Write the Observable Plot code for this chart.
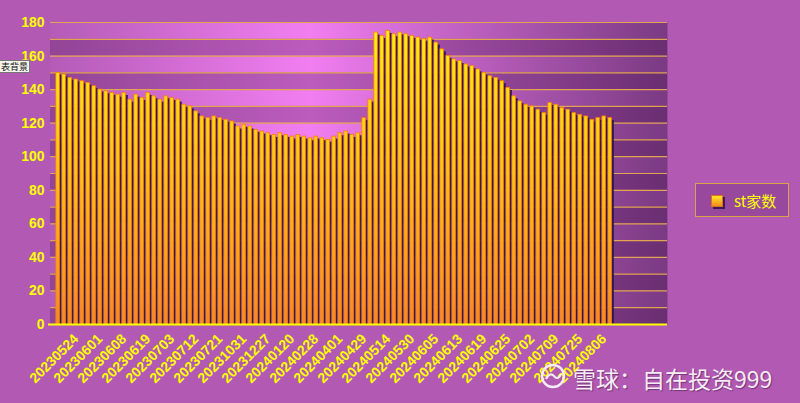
<!DOCTYPE html>
<html><head><meta charset="utf-8">
<script src="https://cdn.jsdelivr.net/npm/d3@7"></script>
<script src="https://cdn.jsdelivr.net/npm/@observablehq/plot@0.6"></script>
<style>
html,body{margin:0;padding:0;background:#b159b3;width:800px;height:403px;overflow:hidden;}
#wrap{position:relative;width:800px;height:403px;}
#wrap svg.chart{position:absolute;left:0;top:0;}
.legend{position:absolute;left:695px;top:183px;width:94px;height:34px;border:1.5px solid #d8a448;background:rgba(90,30,100,0.28);box-sizing:border-box;}
.legend .icon{position:absolute;left:15px;top:11px;width:10px;height:10px;background:linear-gradient(#ffe628,#f08a20);border:1px solid #e07010;box-shadow:2px 2px 0 #3a1a5e;}
.legend .txt{position:absolute;left:38px;top:6px;font:15px "Noto Sans CJK SC","DejaVu Sans",sans-serif;color:#ffff00;}
.tip{position:absolute;left:0;top:60px;height:11px;padding:0 1px;background:#f4f4ec;border:1px solid #777;border-left:none;font:9px "Noto Sans CJK SC",sans-serif;line-height:11px;color:#111;}
.wm{position:absolute;left:573px;top:361px;font:23px "Noto Sans CJK SC",sans-serif;color:#f6ecf6;text-shadow:1px 1px 1px rgba(70,20,70,0.55);white-space:nowrap;}
#wrap svg.logo{position:absolute;left:540px;top:363px;}
</style></head><body><div id="wrap"></div>
<script>
const tickLabels = ["20230524","20230601","20230608","20230619","20230703","20230712","20230721","20231031","20231227","20240120","20240228","20240401","20240429","20240514","20240530","20240605","20240613","20240619","20240625","20240702","20240709","20240725","20240806"];
const stCount = [150,149,147,146,145,144,142,140,139,138,137,138,134,137,135,138,136,134,136,135,134,131,130,127,124,123,124,123,122,121,
118,119,118,116,115,114,113,114,113,112,113,112,111,112,111,110,112,114,115,113,114,123,134,174,172,175,173,174,173,172,171,170,
171,168,164,160,158,157,155,154,152,150,148,147,145,141,136,133,131,130,128,126,132,131,129,128,126,125,124,122,123,124,123];
const seriesName = "st家数";
const labelEvery = 4;
const yTicks = d3.range(0, 181, 20);
const gridValues = d3.range(10, 181, 10);
const bandStarts = d3.range(0, 180, 20);

const bars = stCount.map((v, i) => ({i, v}));
const tickPos = tickLabels.map((t, k) => labelEvery * k + 0.5);

const chart = Plot.plot({
  width: 800, height: 403,
  marginLeft: 50, marginRight: 133, marginTop: 22, marginBottom: 79,
  className: "chart",
  style: {background: "transparent", color: "#ffff00", fontFamily: "'Liberation Sans', Arial, sans-serif", fontSize: "14px", fontWeight: "bold", overflow: "visible"},
  x: {domain: [-0.78, 102.05]},
  y: {domain: [0, 180]},
  marks: [
    Plot.frame({fill: "url(#plotBg)", stroke: "none"}),
    Plot.rect(bandStarts, {y1: d => d, y2: d => d + 10, fill: "#4a1650", fillOpacity: 0.32}),
    Plot.ruleY(gridValues, {stroke: "#e2a452", strokeWidth: 1.2}),
    Plot.rectY(bars, {x1: d => d.i, x2: d => d.i + 1, y: "v", insetLeft: 1.2, insetRight: 1.3, dx: 2.5, dy: 2.5, fill: "#2a1452", fillOpacity: 0.9, clip: true}),
    Plot.rectY(bars, {x1: d => d.i, x2: d => d.i + 1, y: "v", insetLeft: 1.2, insetRight: 1.3, fill: "url(#barGrad)", stroke: "#ff7a00", strokeWidth: 0.8}),
    Plot.ruleY([0], {stroke: "#ffff00", strokeWidth: 2.2, insetLeft: -2}),
    Plot.axisY({ticks: yTicks, tickSize: 0, tickPadding: 6, label: null}),
    Plot.axisX({ticks: tickPos, tickFormat: d => tickLabels[Math.round((d - 0.5) / labelEvery)], tickRotate: -45, tickSize: 0, tickPadding: 0, dx: 18, dy: 12, label: null})
  ]
});

const svg = d3.select(chart);
chart.classList.add("chart");
const defs = svg.insert("defs", ":first-child");
const bg = defs.append("linearGradient").attr("id", "plotBg").attr("x1", 0).attr("x2", 1).attr("y1", 0).attr("y2", 0);
[[0, "#b45bb7"], [0.42, "#f27ef1"], [1, "#7a3a82"]].forEach(([o, c]) => bg.append("stop").attr("offset", o).attr("stop-color", c));
const bgr = defs.append("linearGradient").attr("id", "barGrad").attr("gradientUnits", "userSpaceOnUse").attr("x1", 0).attr("x2", 0).attr("y1", 30).attr("y2", 324);
[[0, "#fff21a"], [0.45, "#ffc81c"], [1, "#f08a30"]].forEach(([o, c]) => bgr.append("stop").attr("offset", o).attr("stop-color", c));

const wrap = document.getElementById("wrap");
wrap.appendChild(chart);

const legend = document.createElement("div");
legend.className = "legend";
legend.innerHTML = `<div class="icon"></div><div class="txt">${seriesName}</div>`;
wrap.appendChild(legend);

const tip = document.createElement("div");
tip.className = "tip";
tip.textContent = "表背景";
wrap.appendChild(tip);

const logo = document.createElementNS("http://www.w3.org/2000/svg", "svg");
logo.setAttribute("class", "logo");
logo.setAttribute("width", 28); logo.setAttribute("height", 28);
logo.innerHTML = `<circle cx="13" cy="13" r="11" fill="none" stroke="#f6ecf6" stroke-width="2.4"/><path d="M6 16 q4 -8 9 -2 q3 3 6 -3" fill="none" stroke="#f6ecf6" stroke-width="2.2"/>`;
wrap.appendChild(logo);

const wm = document.createElement("div");
wm.className = "wm";
wm.textContent = "雪球：自在投资999";
wrap.appendChild(wm);
</script></body></html>
